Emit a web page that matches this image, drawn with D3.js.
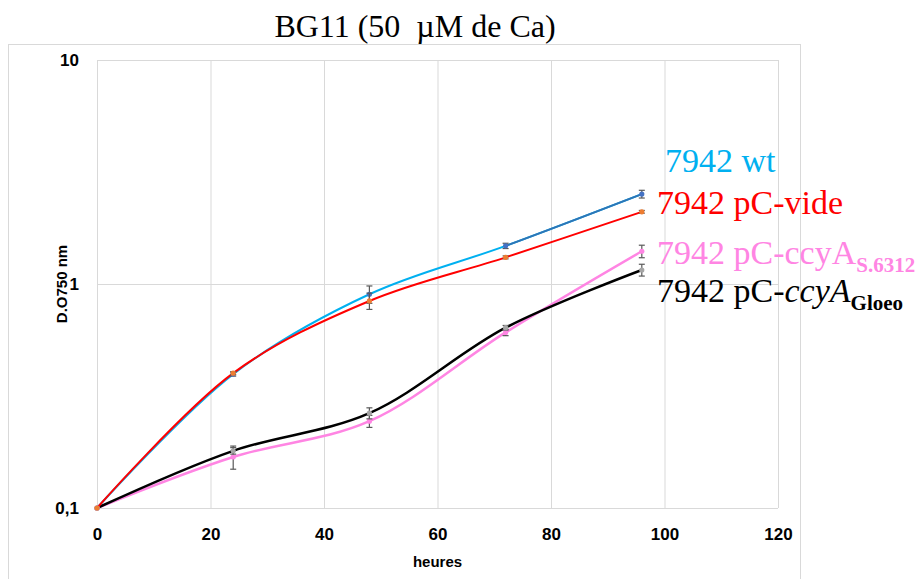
<!DOCTYPE html>
<html>
<head>
<meta charset="utf-8">
<script src="https://cdn.jsdelivr.net/npm/d3@7"></script>
<style>
  body { margin: 0; background: #fff; }
  svg { display: block; }
</style>
</head>
<body>
<div id="chart"></div>
<script>
const width = 922;
const height = 579;
const margin = { top: 60, right: 144, bottom: 71, left: 97 };

// Data (D.O 750 nm against hours)
const hours = [0, 24, 48, 72, 96];
const wt = [0.1, 0.396, 0.90, 1.48, 2.52];
const wtErr = [0, 0.008, 0.08, 0.04, 0.10];
const vide = [0.1, 0.40, 0.84, 1.315, 2.10];
const videErr = [0, 0.006, 0.07, 0.02, 0.03];
const s6312 = [0.1, 0.169, 0.244, 0.608, 1.40];
const s6312Err = [0, 0.02, 0.015, 0.02, 0.09];
const gloeo = [0.1, 0.18, 0.265, 0.638, 1.155];
const gloeoErr = [0, 0.006, 0.015, 0.015, 0.07];
const xTicks = [0, 20, 40, 60, 80, 100, 120];
const yTicks = [0.1, 1, 10];
const yTickLabels = ["0,1", "1", "10"];

const series = [
  { name: "wt", values: wt, err: wtErr, line: "#00B0F0", marker: "#4472C4", w: 2 },
  { name: "s6312", values: s6312, err: s6312Err, line: "#FF85E3", marker: "#FF85E3", w: 2.5 },
  { name: "gloeo", values: gloeo, err: gloeoErr, line: "#000000", marker: "#A5A5A5", w: 2.5 },
  { name: "vide", values: vide, err: videErr, line: "#FF0000", marker: "#ED7D31", w: 2 }
];

const svg = d3.select("#chart")
  .append("svg")
  .attr("width", width)
  .attr("height", height);

// Chart area border
svg.append("rect")
  .attr("x", 8.5).attr("y", 44.5)
  .attr("width", 792).attr("height", 560)
  .attr("fill", "none")
  .attr("stroke", "#d9d9d9");

const x = d3.scaleLinear()
  .domain([0, 120])
  .range([margin.left, width - margin.right]);

const y = d3.scaleLog()
  .domain([0.1, 10])
  .range([height - margin.bottom, margin.top]);

// Gridlines
svg.append("g")
  .selectAll("line.vgrid")
  .data(xTicks)
  .enter().append("line")
  .attr("x1", d => x(d) + 0.5).attr("x2", d => x(d) + 0.5)
  .attr("y1", y(10)).attr("y2", y(0.1))
  .attr("stroke", "#d9d9d9");

svg.append("g")
  .selectAll("line.hgrid")
  .data(yTicks)
  .enter().append("line")
  .attr("x1", x(0)).attr("x2", x(120))
  .attr("y1", d => y(d) + 0.5).attr("y2", d => y(d) + 0.5)
  .attr("stroke", "#d9d9d9");

// Axes
const xAxis = svg.append("g")
  .attr("transform", `translate(0,${y(0.1)})`)
  .call(d3.axisBottom(x).tickValues(xTicks).tickSize(0).tickPadding(20));
xAxis.select(".domain").remove();
xAxis.selectAll("text")
  .attr("font-family", "Liberation Sans, Arial, sans-serif")
  .attr("font-weight", "bold")
  .attr("font-size", 17)
  .attr("fill", "#000");

const yAxis = svg.append("g")
  .attr("transform", `translate(${x(0)},0)`)
  .call(d3.axisLeft(y).tickValues(yTicks).tickFormat((d, i) => yTickLabels[i]).tickSize(0).tickPadding(18));
yAxis.select(".domain").remove();
yAxis.selectAll("text")
  .attr("font-family", "Liberation Sans, Arial, sans-serif")
  .attr("font-weight", "bold")
  .attr("font-size", 17)
  .attr("fill", "#000");

// Axis titles
svg.append("text")
  .attr("x", x(60))
  .attr("y", 567)
  .attr("text-anchor", "middle")
  .attr("font-family", "Liberation Sans, Arial, sans-serif")
  .attr("font-weight", "bold")
  .attr("font-size", 15)
  .text("heures");

svg.append("text")
  .attr("transform", `translate(67,${y(1)}) rotate(-90)`)
  .attr("text-anchor", "middle")
  .attr("font-family", "Liberation Sans, Arial, sans-serif")
  .attr("font-weight", "bold")
  .attr("font-size", 15)
  .text("D.O750 nm");

// Title
svg.append("text")
  .attr("x", 415)
  .attr("y", 37)
  .attr("text-anchor", "middle")
  .attr("font-family", "Liberation Serif, Times New Roman, serif")
  .attr("font-size", 32)
  .style("white-space", "pre")
  .text("BG11 (50  \u00B5M de Ca)");

const line = d3.line()
  .x((d, i) => x(hours[i]))
  .y(d => y(d))
  .curve(d3.curveCatmullRom.alpha(0.5));

// Last segment of the wt series is darker blue
svg.append("clipPath")
  .attr("id", "lastSeg")
  .append("rect")
  .attr("x", x(72)).attr("y", 0)
  .attr("width", width).attr("height", height);

series.forEach(s => {
  svg.append("path")
    .datum(s.values)
    .attr("d", line)
    .attr("fill", "none")
    .attr("stroke", s.line)
    .attr("stroke-width", s.w);
  if (s.name === "wt") {
    svg.append("path")
      .datum(s.values)
      .attr("d", line)
      .attr("fill", "none")
      .attr("stroke", "#2E75B6")
      .attr("stroke-width", s.w)
      .attr("clip-path", "url(#lastSeg)");
  }
});

// Error bars and markers
series.forEach(s => {
  const g = svg.append("g");
  const pts = s.values.map((v, i) => ({ h: hours[i], v: v, e: s.err[i] })).filter(d => d.e > 0);
  g.selectAll("line.err")
    .data(pts)
    .enter().append("line")
    .attr("x1", d => x(d.h)).attr("x2", d => x(d.h))
    .attr("y1", d => y(d.v + d.e)).attr("y2", d => y(d.v - d.e))
    .attr("stroke", "#595959").attr("stroke-width", 1.2);
  [1, -1].forEach(sign => {
    g.selectAll(null)
      .data(pts)
      .enter().append("line")
      .attr("x1", d => x(d.h) - 3).attr("x2", d => x(d.h) + 3)
      .attr("y1", d => y(d.v + sign * d.e)).attr("y2", d => y(d.v + sign * d.e))
      .attr("stroke", "#595959").attr("stroke-width", 1.2);
  });
  g.selectAll("circle")
    .data(s.values)
    .enter().append("circle")
    .attr("cx", (d, i) => x(hours[i]))
    .attr("cy", d => y(d))
    .attr("r", 2.6)
    .attr("fill", s.marker);
});

// Series labels
const labels = [
  { text: "7942 wt", sub: "", x: 665, y: 172, color: "#00B0F0", italic: false },
  { text: "7942 pC-vide", sub: "", x: 657, y: 214, color: "#FF0000", italic: false },
  { text: "7942 pC-ccyA", sub: "S.6312", x: 657, y: 264, color: "#FF85E3", italic: false },
  { text: "7942 pC-", sub: "Gloeo", x: 657, y: 302, color: "#000000", italic: true }
];

labels.forEach(l => {
  const t = svg.append("text")
    .attr("x", l.x)
    .attr("y", l.y)
    .attr("font-family", "Liberation Serif, Times New Roman, serif")
    .attr("font-size", 34)
    .attr("fill", l.color);
  t.append("tspan").text(l.text);
  if (l.italic) t.append("tspan").attr("font-style", "italic").text("ccyA");
  if (l.sub) {
    t.append("tspan")
      .attr("font-size", 21)
      .attr("font-weight", "bold")
      .attr("dy", 8)
      .text(l.sub);
  }
});
</script>
</body>
</html>
